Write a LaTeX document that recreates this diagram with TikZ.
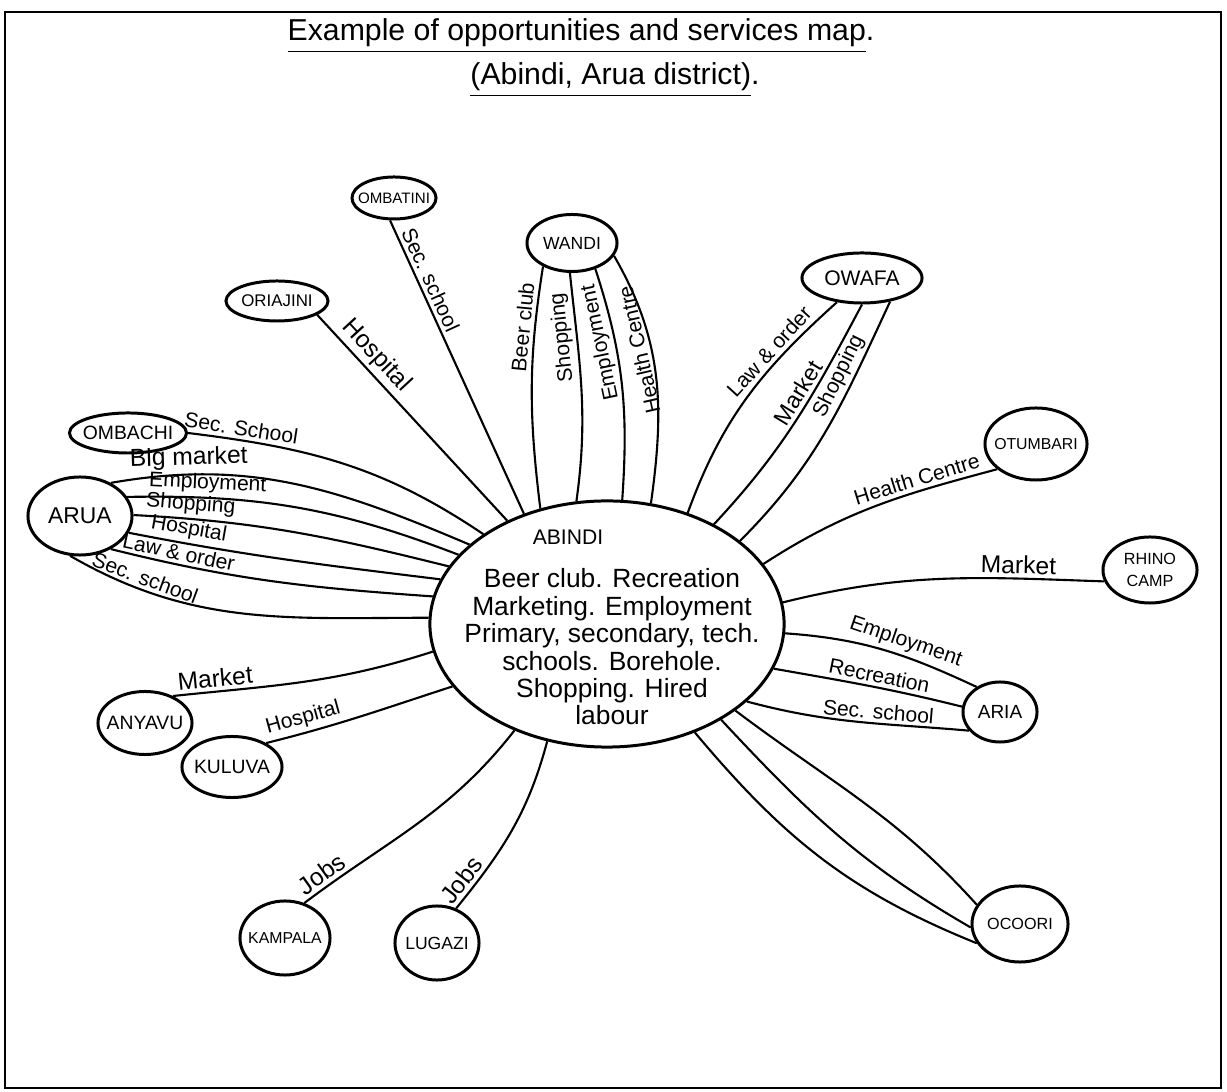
\documentclass[tikz,border=0pt]{standalone}
\usepackage{fontspec}
\setmainfont{Liberation Sans}
\usetikzlibrary{shapes.geometric, positioning}
\newcommand{\tn}[1]{\makebox[0pt]{#1}}

\begin{document}
\begin{tikzpicture}[
        x=0.01cm, y=-0.01cm, % one unit = one pixel of the sheet
        town/.style={draw, ellipse, line width=0.85pt, inner sep=0pt},
        link/.style={line width=0.6pt},
        lab/.style={font=\fontsize{6}{7}\selectfont, inner sep=1pt},
        biglab/.style={lab, font=\fontsize{7}{8}\selectfont},
        heading/.style={font=\fontsize{8.6}{10}\selectfont}
    ]
        \useasboundingbox (0,0) rectangle (1227,1092);
        \draw[line width=0.8pt] (5,12) rectangle (1221,1088);

        % --- TITLE ---
        \node[heading] (title) at (581,36) {\underline{Example of opportunities and services map}.};
        \node[heading] (subtitle) at (615,80) {\underline{(Abindi, Arua district)}.};

        % --- CENTRE ---
        \node[town, minimum width=3.54cm, minimum height=2.46cm] (abindi) at (607,624) {};
        \node[font=\fontsize{6}{7}\selectfont] (abindiname) at (568,537) {ABINDI};
        \node[align=center, font=\fontsize{7.5}{7.8}\selectfont] (abindilist) at (612,647) {Beer club. Recreation\\Marketing. Employment\\Primary, secondary, tech.\\schools. Borehole.\\Shopping. Hired\\labour};

        % --- PLACES ---
        \node[town, minimum width=0.84cm, minimum height=0.42cm, font=\fontsize{4.3}{5}\selectfont] (ombatini) at (394,198) {\tn{OMBATINI}};
        \node[town, minimum width=1.02cm, minimum height=0.40cm, font=\fontsize{4.8}{5}\selectfont] (oriajini) at (277,301) {\tn{ORIAJINI}};
        \node[town, minimum width=0.90cm, minimum height=0.57cm, font=\fontsize{5}{6}\selectfont] (wandi) at (572,243) {\tn{WANDI}};
        \node[town, minimum width=1.20cm, minimum height=0.50cm, font=\fontsize{6}{7}\selectfont] (owafa) at (862,278) {\tn{OWAFA}};
        \node[town, minimum width=1.02cm, minimum height=0.72cm, font=\fontsize{4.5}{5}\selectfont] (otumbari) at (1036,444) {\tn{OTUMBARI}};
        \node[town, minimum width=0.94cm, minimum height=0.66cm, font=\fontsize{4.6}{6.2}\selectfont] (rhino) at (1150,570) {\tn{\shortstack{RHINO\\CAMP}}};
        \node[town, minimum width=1.17cm, minimum height=0.40cm, font=\fontsize{5.5}{6}\selectfont] (ombachi) at (128,433) {\tn{OMBACHI}};
        \node[town, minimum width=1.04cm, minimum height=0.78cm, font=\fontsize{6.5}{7}\selectfont] (arua) at (80,516) {\tn{ARUA}};
        \node[town, minimum width=0.94cm, minimum height=0.63cm, font=\fontsize{5.5}{6}\selectfont] (anyavu) at (145,723) {\tn{ANYAVU}};
        \node[town, minimum width=1.00cm, minimum height=0.61cm, font=\fontsize{5.5}{6}\selectfont] (kuluva) at (232,767) {\tn{KULUVA}};
        \node[town, minimum width=0.90cm, minimum height=0.74cm, font=\fontsize{4.5}{5}\selectfont] (kampala) at (285,938) {\tn{KAMPALA}};
        \node[town, minimum width=0.84cm, minimum height=0.74cm, font=\fontsize{5}{6}\selectfont] (lugazi) at (437,943) {\tn{LUGAZI}};
        \node[town, minimum width=0.74cm, minimum height=0.60cm, font=\fontsize{5.4}{6}\selectfont] (aria) at (1000,712) {\tn{ARIA}};
        \node[town, minimum width=0.96cm, minimum height=0.76cm, font=\fontsize{4.6}{5}\selectfont] (ocoori) at (1020,924) {\tn{OCOORI}};

        % --- WEST ---
        \draw[link] (ombatini.-100) -- node[lab, pos=0.22, above, sloped] {Sec. school} (abindi.127);
        \draw[link] (oriajini.-19) -- node[biglab, pos=0.25, above, sloped] {Hospital} (abindi.134);
        \draw[link] (ombachi.0) to[out=-7, in=146] node[lab, pos=0.15, above, sloped] {Sec. School} (abindi.144);
        \draw[link] (arua.47) to[out=10, in=157] node[biglab, pos=0.2, above, sloped] {Big market} (abindi.150);
        \draw[link] (arua.22) to[out=1, in=159] node[lab, pos=0.22, above, sloped] {Employment} (abindi.155);
        \draw[link] (arua.1) to[out=-3, in=166] node[lab, pos=0.16, above, sloped] {Shopping} (abindi.160);
        \draw[link] (arua.-19) to[out=-11, in=173] node[lab, pos=0.17, above, sloped] {Hospital} (abindi.165);
        \draw[link] (arua.-47) to[out=-14, in=176] node[lab, pos=0.19, above, sloped] {Law \& order} (abindi.171);
        \draw[link] (arua.-104) to[out=-30, in=180] node[lab, pos=0.2, above, sloped] {Sec. school} (abindi.178);
        \draw[link] (anyavu.44) to[out=6, in=198] node[biglab, pos=0.15, above, sloped] {Market} (abindi.189);
        \draw[link] (kuluva.35) to[out=14, in=198] node[lab, pos=0.2, above, sloped] {Hospital} (abindi.202);
        \draw[link] (kampala.61) to[out=37, in=232] node[biglab, pos=0.1, above, sloped] {Jobs} (abindi.229);
        \draw[link] (lugazi.61) to[out=51, in=255] node[biglab, pos=0.12, above, sloped] {Jobs} (abindi.243);

        % --- NORTH ---
        \draw[link] (abindi.120) to[out=97, in=261] node[lab, pos=0.76, above, sloped, allow upside down] {Beer club} (wandi.219);
        \draw[link] (abindi.104) to[out=82, in=276] node[lab, pos=0.74, above, sloped, allow upside down] {Shopping} (wandi.266);
        \draw[link] (abindi.83) to[out=86, in=288] node[lab, pos=0.7, above, sloped, allow upside down] {Employment} (wandi.-48);
        \draw[link] (abindi.70) to[out=82, in=300] node[lab, pos=0.62, above, sloped, allow upside down] {Health Centre} (wandi.-17);

        % --- EAST ---
        \draw[link] (owafa.224) to[out=222, in=70] node[lab, pos=0.3, above, sloped] {Law \& order} (abindi.54);
        \draw[link] (owafa.270) to[out=242, in=47] node[lab, font=\fontsize{6.6}{7}\selectfont, pos=0.4, above, sloped] {Market} (abindi.43);
        \draw[link] (owafa.320) to[out=245, in=45] node[lab, pos=0.3, above, sloped] {Shopping} (abindi.32);
        \draw[link] (otumbari.213) to[out=195, in=33] node[lab, pos=0.3, above, sloped] {Health Centre} (abindi.21);
        \draw[link] (rhino.194) to[out=178, in=14] node[biglab, pos=0.25, above, sloped] {Market} (abindi.7);

        % --- SOUTH-EAST ---
        \draw[link] (aria.133) to[out=155, in=-4] node[lab, pos=0.4, above, sloped] {Employment} (abindi.-3);
        \draw[link] (aria.172) to[out=166, in=-10] node[lab, pos=0.45, above, sloped] {Recreation} (abindi.-15);
        \draw[link] (aria.211) to[out=175, in=-15] node[lab, pos=0.4, above, sloped] {Sec. school} (abindi.-29);
        \draw[link] (ocoori.204) to[out=158, in=-50] (abindi.-51);
        \draw[link] (ocoori.184) to[out=150, in=-47] (abindi.-40);
        \draw[link] (ocoori.156) to[out=132, in=-37] (abindi.-34);
    \end{tikzpicture}
\end{document}
